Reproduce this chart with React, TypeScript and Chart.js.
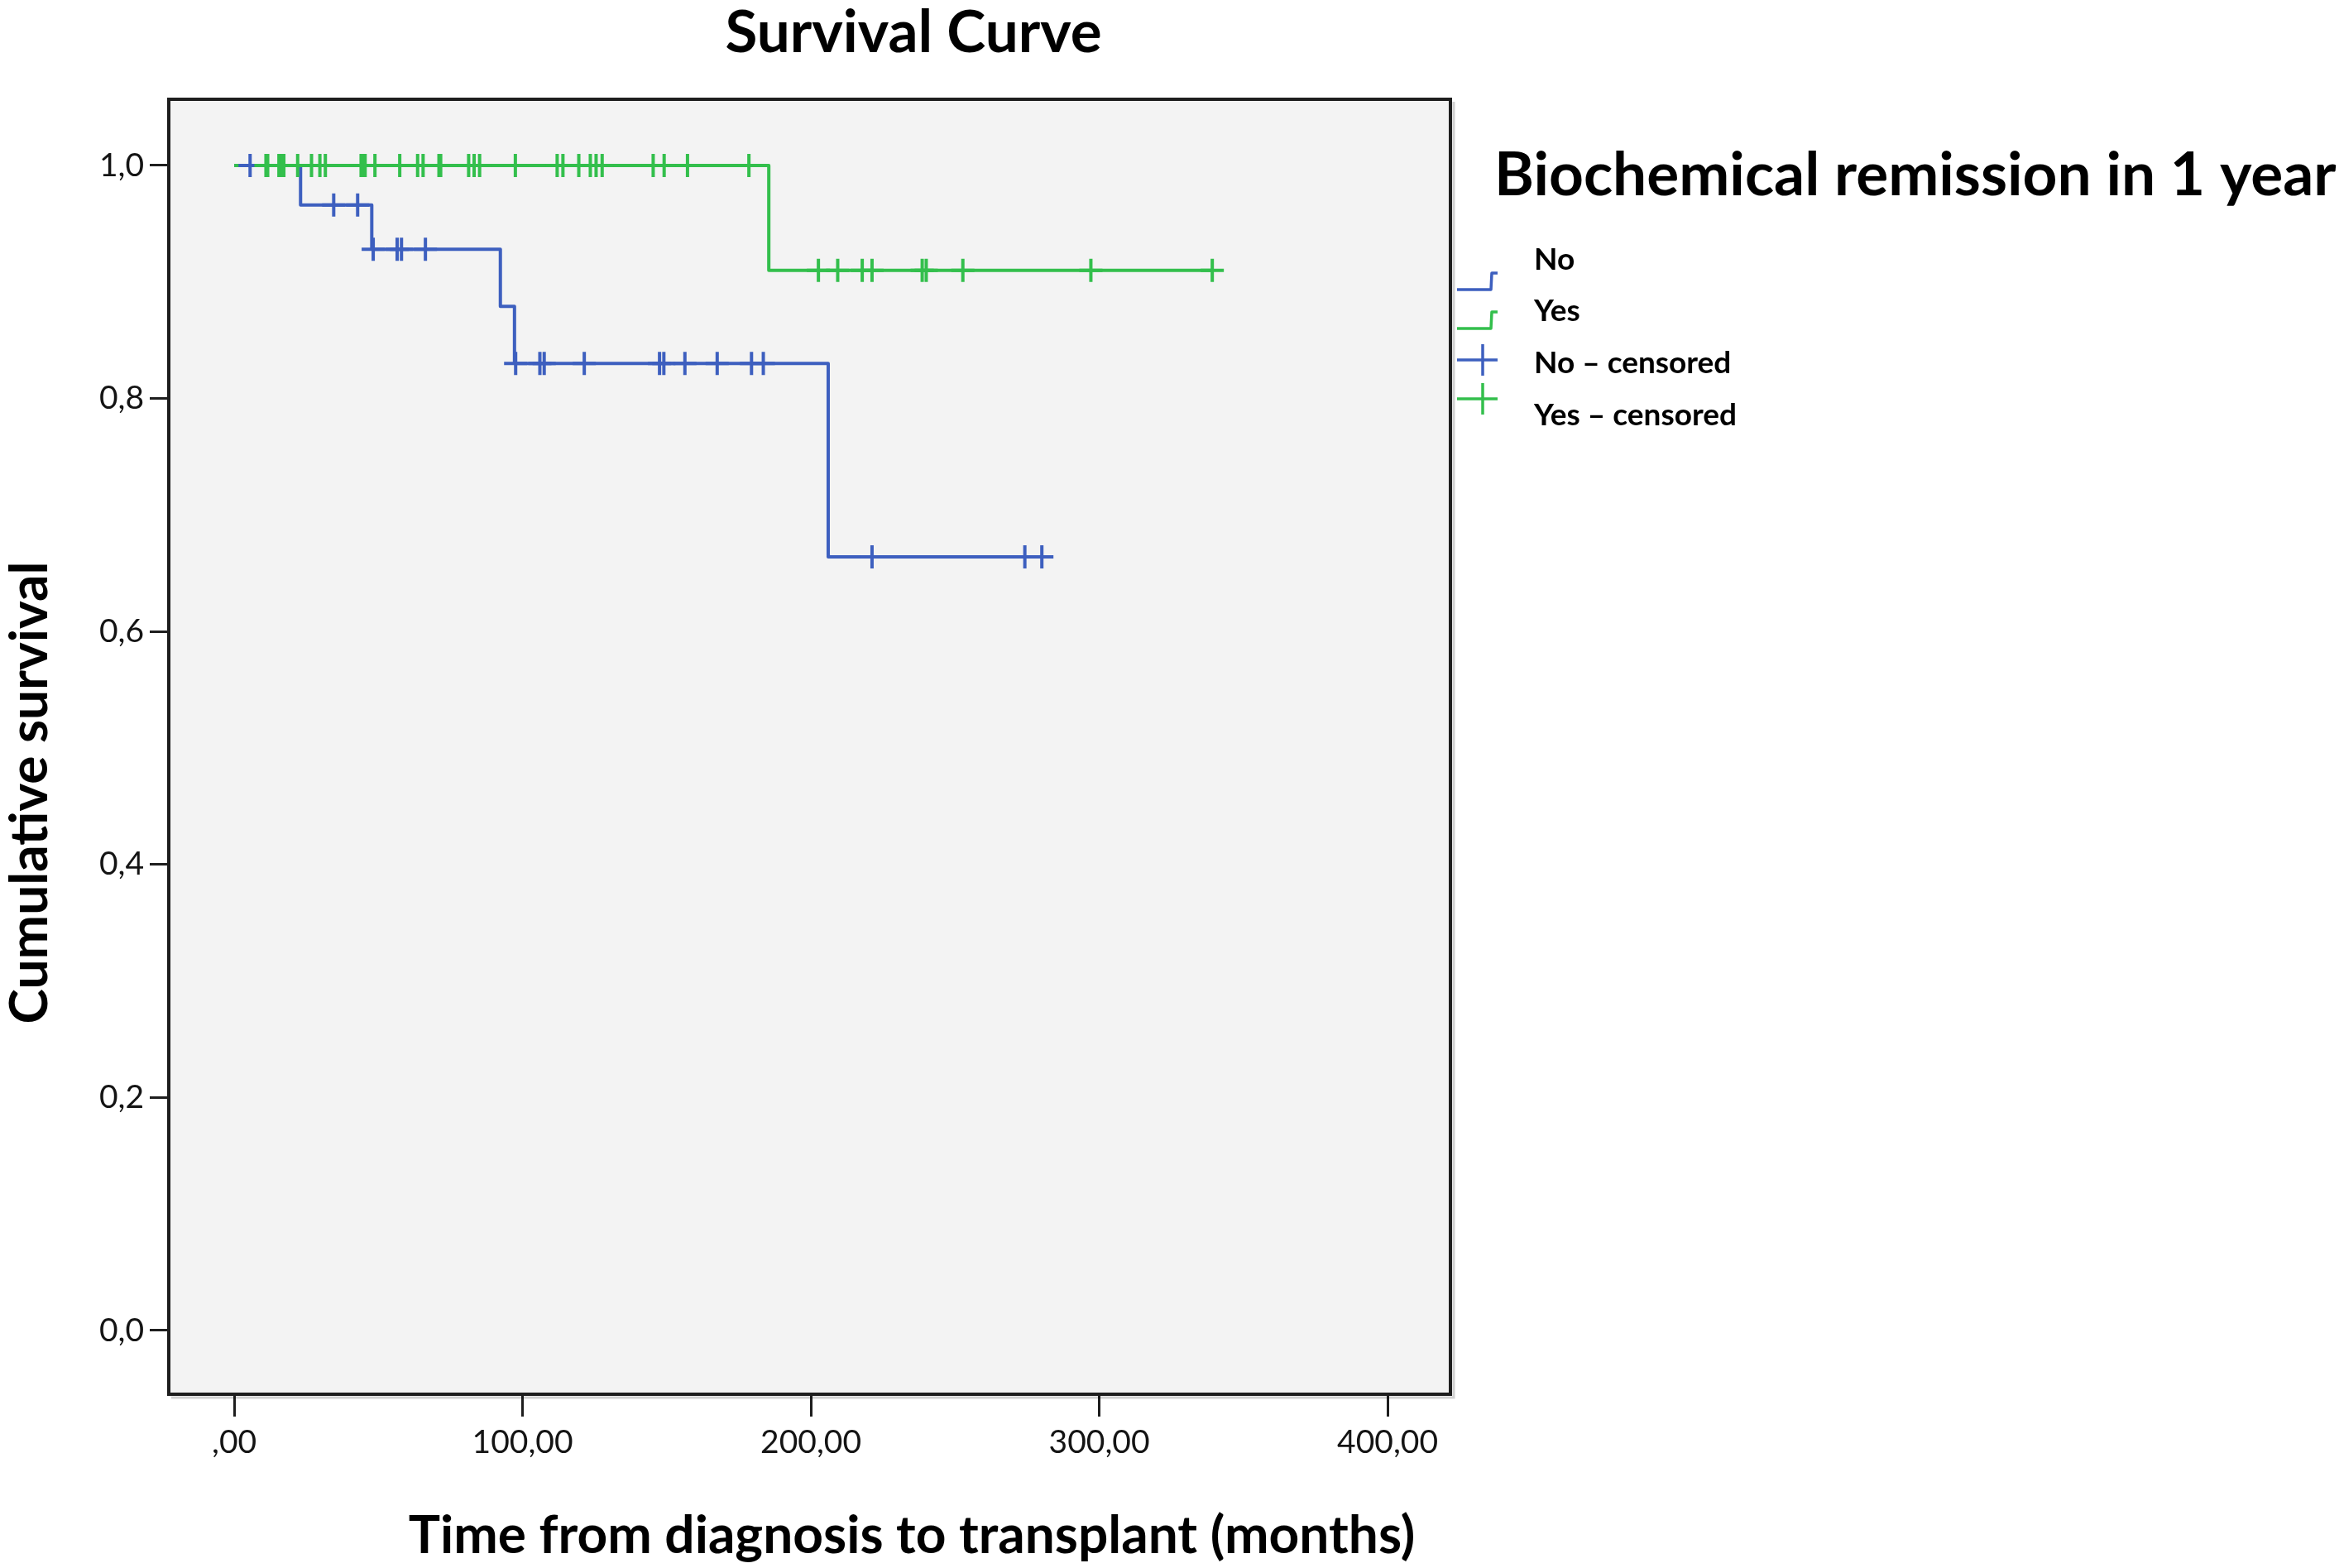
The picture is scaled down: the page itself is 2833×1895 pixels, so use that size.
import React, { useEffect, useRef } from 'react';
import { Chart, registerables } from 'chart.js';

Chart.register(...registerables);

// ---------- data ----------
const chartTitle = 'Survival Curve';
const xAxisTitle = 'Time from diagnosis to transplant (months)';
const yAxisTitle = 'Cumulative survival';
const legendTitle = 'Biochemical remission in 1 year';
const legendLabels = ['No', 'Yes', 'No \u2013 censored', 'Yes \u2013 censored'];

const xTickValues = [0, 100, 200, 300, 400];
const xTickLabels = [',00', '100,00', '200,00', '300,00', '400,00'];
const yTickValues = [0, 0.2, 0.4, 0.6, 0.8, 1.0];
const yTickLabels = ['0,0', '0,2', '0,4', '0,6', '0,8', '1,0'];

// Kaplan-Meier step points (time, cumulative survival)
const noStepTimes = [0, 23, 47.7, 92.3, 97.2, 206, 280.1];
const noStepSurv = [1.0, 0.966, 0.928, 0.879, 0.83, 0.664, 0.664];
const yesStepTimes = [0, 185.4, 339.2];
const yesStepSurv = [1.0, 0.91, 0.91];

// censored observation times
const noCensored = [5.5, 34.5, 42.8, 48.2, 56.5, 58, 66.3, 97.6, 106, 107.5, 121.4, 147.5, 149, 156.3, 167.5, 179.4, 183.5, 221.2, 274.2, 280.1];
const yesCensored = [11, 11.6, 15.5, 16.5, 17.2, 22, 26.8, 29.7, 31.6, 44, 44.7, 45.4, 48.8, 57.4, 63.6, 65.5, 71, 71.6, 81.3, 83.2, 85.1, 97.5, 112, 114, 119.5, 123.5, 125.5, 127.6, 145.3, 149.1, 157.2, 178.5, 202.6, 209.3, 217.8, 221.2, 238.6, 240, 252.7, 297.1, 339.2];

// ---------- styles ----------
const BLUE = '#3d5fbf';
const GREEN = '#33bf4c';
const FAM = 'Lato, "Open Sans", "DejaVu Sans", sans-serif';

function survAt(times: number[], surv: number[], t: number): number {
  let s = surv[0];
  for (let i = 0; i < times.length; i++) {
    if (times[i] <= t) s = surv[i];
  }
  return s;
}

const decorPlugin = {
  id: 'decor',
  beforeDraw(chart: any) {
    const { ctx, chartArea: a, width, height } = chart;
    ctx.save();
    ctx.fillStyle = '#ffffff';
    ctx.fillRect(0, 0, width, height);
    ctx.fillStyle = '#f3f3f3';
    ctx.fillRect(a.left, a.top, a.right - a.left, a.bottom - a.top);
    ctx.restore();
  },
  afterDraw(chart: any) {
    const { ctx, chartArea: a } = chart;
    ctx.save();
    // subtle shadow + frame
    ctx.strokeStyle = 'rgba(0,0,0,0.18)';
    ctx.lineWidth = 3;
    ctx.beginPath();
    ctx.moveTo(a.left + 3, a.bottom + 4);
    ctx.lineTo(a.right + 4, a.bottom + 4);
    ctx.lineTo(a.right + 4, a.top + 3);
    ctx.stroke();
    ctx.strokeStyle = '#1e1e1e';
    ctx.lineWidth = 4;
    ctx.strokeRect(a.left, a.top, a.right - a.left, a.bottom - a.top);

    ctx.fillStyle = '#000000';
    ctx.textBaseline = 'middle';

    // chart title
    ctx.font = `bold 71px ${FAM}`;
    ctx.textAlign = 'center';
    ctx.fillText(chartTitle, 1104, 40);

    // x axis title
    ctx.font = `bold 64px ${FAM}`;
    ctx.fillText(xAxisTitle, 1102, 1856);

    // y axis title
    ctx.save();
    ctx.translate(36, 958);
    ctx.rotate(-Math.PI / 2);
    ctx.font = `bold 64px ${FAM}`;
    ctx.fillText(yAxisTitle, 0, 0);
    ctx.restore();

    // legend title
    ctx.textAlign = 'left';
    ctx.font = `bold 73px ${FAM}`;
    ctx.fillText(legendTitle, 1806, 212);

    // legend items
    ctx.font = `bold 37px ${FAM}`;
    const textY = [314, 376, 439, 502];
    legendLabels.forEach((lab, i) => ctx.fillText(lab, 1854, textY[i]));

    // legend symbols
    ctx.lineWidth = 3.5;
    ctx.lineJoin = 'round';
    const steps = [
      { c: BLUE, lo: 350, hi: 330 },
      { c: GREEN, lo: 397, hi: 377 },
    ];
    steps.forEach((s) => {
      ctx.strokeStyle = s.c;
      ctx.beginPath();
      ctx.moveTo(1761, s.lo);
      ctx.lineTo(1802, s.lo);
      ctx.lineTo(1803, s.hi);
      ctx.lineTo(1810, s.hi);
      ctx.stroke();
    });
    const crosses = [
      { c: BLUE, y: 435 },
      { c: GREEN, y: 482 },
    ];
    crosses.forEach((s) => {
      ctx.strokeStyle = s.c;
      ctx.beginPath();
      ctx.moveTo(1761, s.y);
      ctx.lineTo(1810, s.y);
      ctx.moveTo(1792, s.y - 19);
      ctx.lineTo(1792, s.y + 19);
      ctx.stroke();
    });
    ctx.restore();
  },
};

export default function App() {
  const ref = useRef<HTMLCanvasElement | null>(null);

  useEffect(() => {
    document.body.style.margin = '0';
    const canvas = ref.current;
    if (!canvas) return;

    const noLine = noStepTimes.map((t, i) => ({ x: t, y: noStepSurv[i] }));
    const yesLine = yesStepTimes.map((t, i) => ({ x: t, y: yesStepSurv[i] }));
    const noCens = noCensored.map((t) => ({ x: t, y: survAt(noStepTimes, noStepSurv, t) }));
    const yesCens = yesCensored.map((t) => ({ x: t, y: survAt(yesStepTimes, yesStepSurv, t) }));

    const tickFont = { family: FAM, size: 39 };

    const chart = new Chart(canvas, {
      type: 'line',
      data: {
        datasets: [
          {
            type: 'line',
            label: 'No',
            data: noLine,
            borderColor: BLUE,
            borderWidth: 4,
            stepped: 'before',
            pointRadius: 0,
            fill: false,
            borderJoinStyle: 'round',
            order: 4,
          },
          {
            type: 'line',
            label: 'Yes',
            data: yesLine,
            borderColor: GREEN,
            borderWidth: 4,
            stepped: 'before',
            pointRadius: 0,
            fill: false,
            borderJoinStyle: 'round',
            order: 3,
          },
          {
            type: 'scatter',
            label: 'No \u2013 censored',
            data: noCens,
            borderColor: BLUE,
            backgroundColor: BLUE,
            pointStyle: 'cross',
            pointRadius: 14,
            pointBorderWidth: 4,
            showLine: false,
            order: 2,
          },
          {
            type: 'scatter',
            label: 'Yes \u2013 censored',
            data: yesCens,
            borderColor: GREEN,
            backgroundColor: GREEN,
            pointStyle: 'cross',
            pointRadius: 14,
            pointBorderWidth: 4,
            showLine: false,
            order: 1,
          },
        ] as any,
      },
      options: {
        responsive: false,
        maintainAspectRatio: false,
        devicePixelRatio: 1,
        animation: false,
        layout: { padding: { left: 0, top: 120, right: 1080, bottom: 0 } },
        plugins: {
          legend: { display: false },
          tooltip: { enabled: false },
          title: { display: false },
        },
        scales: {
          x: {
            type: 'linear',
            min: -22.7,
            max: 421.8,
            afterBuildTicks: (scale: any) => {
              scale.ticks = xTickValues.map((v) => ({ value: v }));
            },
            afterFit: (scale: any) => {
              scale.height = 210;
            },
            ticks: {
              autoSkip: false,
              maxRotation: 0,
              padding: 8,
              color: '#141414',
              font: tickFont,
              callback: (_v: any, i: number) => xTickLabels[i],
            },
            grid: {
              drawOnChartArea: false,
              drawTicks: true,
              tickLength: 27,
              tickWidth: 3,
              tickColor: '#1e1e1e',
            },
            border: { display: false },
          },
          y: {
            type: 'linear',
            min: -0.0547,
            max: 1.0568,
            afterBuildTicks: (scale: any) => {
              scale.ticks = yTickValues.map((v) => ({ value: v }));
            },
            afterFit: (scale: any) => {
              scale.width = 204;
            },
            ticks: {
              autoSkip: false,
              padding: 7,
              color: '#141414',
              font: tickFont,
              callback: (_v: any, i: number) => yTickLabels[i],
            },
            grid: {
              drawOnChartArea: false,
              drawTicks: true,
              tickLength: 23,
              tickWidth: 3,
              tickColor: '#1e1e1e',
            },
            border: { display: false },
          },
        },
      },
      plugins: [decorPlugin],
    } as any);

    return () => chart.destroy();
  }, []);

  return (
    <div style={{ position: 'absolute', left: 0, top: 0, width: '2833px', height: '1895px', background: '#fff' }}>
      <canvas ref={ref} width={2833} height={1895} style={{ width: '2833px', height: '1895px', display: 'block' }} />
    </div>
  );
}
